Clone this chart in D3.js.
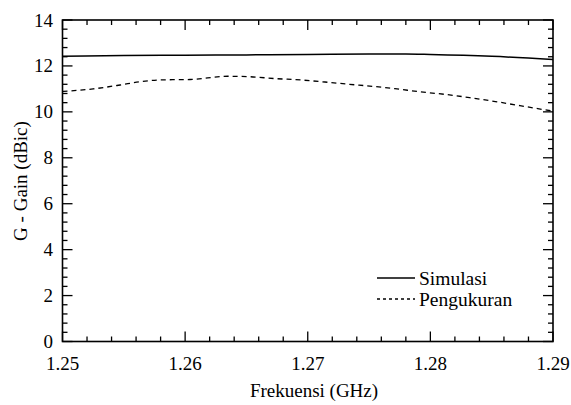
<!DOCTYPE html>
<html>
<head>
<meta charset="utf-8">
<style>
body { margin: 0; background: #fff; font-family: "Liberation Serif", serif; }
</style>
</head>
<body>
<svg id="chart" width="571" height="405"></svg>
<script src="https://cdn.jsdelivr.net/npm/d3@7"></script>
<script>
// data
var freq_sim = [1.25, 1.255, 1.26, 1.265, 1.27, 1.275, 1.278, 1.28, 1.285, 1.29];
var gain_sim = [12.42, 12.45, 12.47, 12.48, 12.50, 12.52, 12.52, 12.50, 12.42, 12.28];

var freq_meas = [1.25, 1.2525, 1.2547, 1.2563, 1.2579, 1.2604, 1.2635, 1.2653, 1.2673, 1.2694,
                 1.2714, 1.2734, 1.2755, 1.2771, 1.2792, 1.2812, 1.2832, 1.2853, 1.2873, 1.29];
var gain_meas = [10.89, 11.0, 11.17, 11.31, 11.39, 11.41, 11.55, 11.53, 11.45, 11.39,
                 11.30, 11.20, 11.10, 11.01, 10.87, 10.76, 10.62, 10.45, 10.27, 10.03];

var x_ticks = [1.25, 1.26, 1.27, 1.28, 1.29];
var y_ticks = [0, 2, 4, 6, 8, 10, 12, 14];
var series_names = ["Simulasi", "Pengukuran"];

var font_name = "Liberation Serif";
var svg = d3.select("#chart");
var plot_left = 62.5, plot_right = 553, plot_top = 20, plot_bottom = 341.5;

var x = d3.scaleLinear().domain([1.25, 1.29]).range([plot_left, plot_right]);
var y = d3.scaleLinear().domain([0, 14]).range([plot_bottom, plot_top]);

/*
inward ticks on all four sides
*/
var x_minor = d3.range(0, 21).map(function(i){ return 1.25 + i * 0.002; });
var y_minor = d3.range(0, 36).map(function(i){ return i * 0.4; });

function is_major(v, list){
	return list.some(function(t){ return Math.abs(t - v) < 1e-6; });
}

var g_ticks = svg.append("g").attr("stroke", "#000").attr("stroke-width", 1.3);
x_minor.forEach(function(v){
	var len = is_major(v, x_ticks) ? 10 : 5;
	g_ticks.append("line").attr("x1", x(v)).attr("x2", x(v)).attr("y1", plot_bottom).attr("y2", plot_bottom - len);
	g_ticks.append("line").attr("x1", x(v)).attr("x2", x(v)).attr("y1", plot_top).attr("y2", plot_top + len);
});
y_minor.forEach(function(v){
	var len = is_major(v, y_ticks) ? 10 : 5;
	g_ticks.append("line").attr("x1", plot_left).attr("x2", plot_left + len).attr("y1", y(v)).attr("y2", y(v));
	g_ticks.append("line").attr("x1", plot_right).attr("x2", plot_right - len).attr("y1", y(v)).attr("y2", y(v));
});

svg.append("rect")
	.attr("x", plot_left).attr("y", plot_top)
	.attr("width", plot_right - plot_left).attr("height", plot_bottom - plot_top)
	.attr("fill", "none").attr("stroke", "#000").attr("stroke-width", 1.6);

/*
curves
*/
var line = d3.line()
	.x(function(d){ return x(d[0]); })
	.y(function(d){ return y(d[1]); })
	.curve(d3.curveMonotoneX);

svg.append("path")
	.datum(d3.zip(freq_sim, gain_sim))
	.attr("d", line)
	.attr("fill", "none").attr("stroke", "#000").attr("stroke-width", 1.5);

svg.append("path")
	.datum(d3.zip(freq_meas, gain_meas))
	.attr("d", line)
	.attr("fill", "none").attr("stroke", "#000").attr("stroke-width", 1.3)
	.attr("stroke-dasharray", "5,4");

// all texts in one group
var g_text = svg.append("g")
	.attr("font-family", font_name)
	.attr("fill", "#000");

g_text.selectAll(".xlab").data(x_ticks).enter().append("text")
	.attr("x", function(d){ return x(d); })
	.attr("y", 370)
	.attr("text-anchor", "middle")
	.attr("font-size", 19)
	.text(function(d){ return d3.format(".2f")(d); });

g_text.selectAll(".ylab").data(y_ticks).enter().append("text")
	.attr("x", 53)
	.attr("y", function(d){ return y(d) + 6.5; })
	.attr("text-anchor", "end")
	.attr("font-size", 19)
	.text(function(d){ return d; });

g_text.append("text")
	.attr("x", 314).attr("y", 397)
	.attr("text-anchor", "middle")
	.attr("font-size", 19)
	.text("Frekuensi (GHz)");

g_text.append("text")
	.attr("transform", "translate(27,181) rotate(-90)")
	.attr("text-anchor", "middle")
	.attr("font-size", 19)
	.text("G - Gain (dBic)");

// legend
var dashes = [null, "3,3"];
series_names.forEach(function(name, i){
	var ly = 278 + i * 21;
	svg.append("line")
		.attr("x1", 377).attr("x2", 415).attr("y1", ly).attr("y2", ly)
		.attr("stroke", "#000").attr("stroke-width", 1.3)
		.attr("stroke-dasharray", dashes[i]);
	g_text.append("text")
		.attr("x", 419).attr("y", ly + 7)
		.attr("font-size", 19.5)
		.text(name);
});

// re-apply the face once it is loaded, in case the first paint fell back
if (document.fonts && document.fonts.load) {
	document.fonts.load("19px '" + font_name + "'").then(function(){
		g_text.attr("font-family", null);
		g_text.attr("font-family", font_name);
	});
}
</script>
</body>
</html>
